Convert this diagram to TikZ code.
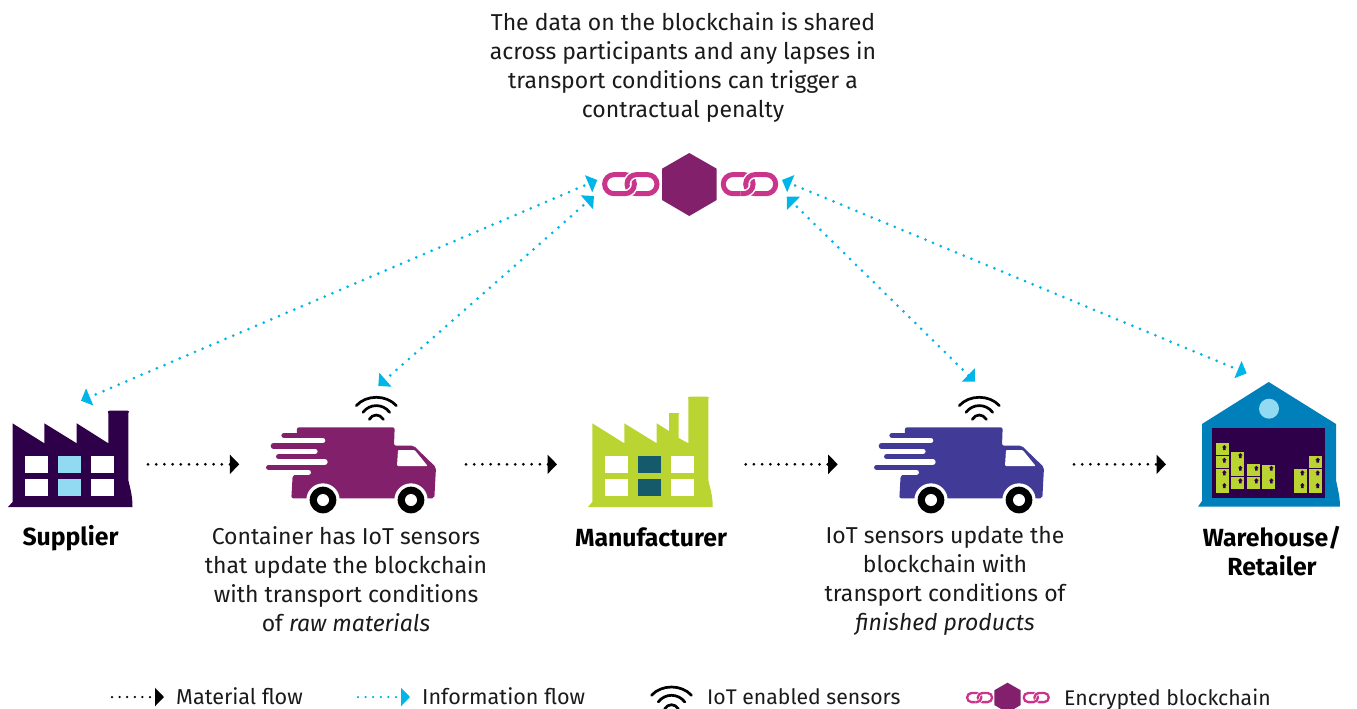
\documentclass[tikz,border=0pt]{standalone}
\usepackage{fontspec}
\setmainfont{Fira Sans}
\usetikzlibrary{arrows.meta}
\definecolor{plum}{HTML}{82206C}
\definecolor{indigoV}{HTML}{413A96}
\definecolor{darkV}{HTML}{2E0049}
\definecolor{lightB}{HTML}{92D9F2}
\definecolor{limeV}{HTML}{BAD531}
\definecolor{tealV}{HTML}{155A6B}
\definecolor{pinkV}{HTML}{C8358A}
\definecolor{skyV}{HTML}{00B5E8}
\definecolor{blueV}{HTML}{0080BA}
\definecolor{inkV}{HTML}{1A1A1A}
\tikzset{
  iconbox/.style={inner sep=0pt,outer sep=0pt,minimum width=#1},
  matflow/.style={line width=3pt,black,line cap=round,dash pattern=on 0pt off 8.2pt,
    -{Triangle[length=9.5pt,width=19pt]}},
  infoflow/.style={line width=3pt,skyV,line cap=round,dash pattern=on 0pt off 8.3pt,dash phase=3pt,
    {Triangle[length=9.5pt,width=18pt]}-{Triangle[length=9.5pt,width=18pt]}},
  wifiarc/.style={line width=2.7pt,black,line cap=round},
  bodytext/.style={font=\fontsize{23}{29}\selectfont,text=inkV,align=center,inner sep=0pt},
  boldtext/.style={font=\fontsize{24.8}{29}\selectfont\bfseries,text=black,align=center,inner sep=0pt},
  legendtext/.style={font=\fontsize{21.6}{25}\selectfont,text=inkV,anchor=base west,inner sep=0pt},
  legendtextB/.style={font=\fontsize{21.2}{25}\selectfont,text=inkV,anchor=base west,inner sep=0pt},
}
% x shift, colour
\newcommand{\vanicon}[2]{%
\begin{scope}[shift={(262+#1,390)},scale=1/3]
  \fill[#2,rounded corners=2pt] (105,112) -- (398,112) -- (396,167) -- (455,167) -- (522,232) -- (517,325) -- (88,325) -- (92,255) -- (100,255) -- cycle;
  \foreach \yy/\xx in {136/60,168/28,200/44,232/14}
    {\draw[#2,line width=5.3pt,line cap=round] (\xx+6,\yy) -- (130,\yy);}
  \foreach \yy/\xx in {152/190,184/167,216/197,247/147}
    {\draw[white,line width=5.3pt,line cap=round] (5,\yy) -- (\xx-8,\yy);}
  \fill[white,rounded corners=1pt] (405,228) -- (408,180) -- (458,180) -- (497,228) -- cycle;
  \foreach \cx in {183,447} {
    \fill[white] (\cx,330) circle (50);
    \fill[black] (\cx,330) circle (40);
    \fill[white] (\cx,330) circle (18);
  }
\end{scope}}
% centre x, peak y
\newcommand{\wifiicon}[2]{%
\begin{scope}[shift={(#1,#2)}]
  \draw[wifiarc] (-20,8.3) .. controls (-10,-2.77) and (10,-2.77) .. (20,8.3);
  \draw[wifiarc] (-13.3,15) .. controls (-6.6,6.07) and (6.6,6.07) .. (13.3,15);
  \draw[wifiarc] (-7,22) .. controls (-3.5,16.3) and (3.5,16.3) .. (7,22);
\end{scope}}
% factory windows: x1,x2,x3 with middle colour
\newcommand{\factorywin}[4]{%
  \foreach \yy in {456,479} {
    \fill[white] (#1,\yy) rectangle ++(23,17);
    \fill[#4] (#2,\yy) rectangle ++(23,17);
    \fill[white] (#3,\yy) rectangle ++(23,17);
  }}
% x offset, line width, radius
\newcommand{\chainicon}[3]{%
\begin{scope}[xshift=#1pt]
  \tikzset{lk/.style={rounded corners=#3pt,line width=#2pt}}
  \draw[pinkV,lk] (604.6,174.6) rectangle (634.4,193.7);
  \draw[white,lk,line width=#2pt*1.6] (627,174.6) rectangle (657,193.7);
  \draw[pinkV,lk] (627,174.6) rectangle (657,193.7);
  \begin{scope}
    \clip (622,184.2) rectangle (640,200);
    \draw[white,lk,line width=#2pt*1.6] (604.6,174.6) rectangle (634.4,193.7);
    \draw[pinkV,lk] (604.6,174.6) rectangle (634.4,193.7);
  \end{scope}
\end{scope}}
\newcommand{\hexicon}{\fill[plum] (689.3,153) -- (716.7,168.7) -- (716.7,200) -- (689.3,216) -- (662,200) -- (662,168.7) -- cycle;}
\newcommand{\boxarrow}[2]{\fill[darkV] (#1,#2-8) -- (#1+7,#2-1) -- (#1+4,#2-1) -- (#1+4,#2+7) -- (#1-4,#2+7) -- (#1-4,#2-1) -- (#1-7,#2-1) -- cycle;}
\begin{document}
\begin{tikzpicture}[x=1pt,y=-1pt]
\useasboundingbox (0,0) rectangle (1357,709);
% ---- icon anchors
\node[iconbox=124.5pt] (supplier) at (70.25,464.3) {};
\node[iconbox=171pt] (vanA) at (351.5,464.3) {};
\node[iconbox=124.7pt] (maker) at (650.35,464.3) {};
\node[iconbox=171pt] (vanB) at (959.5,464.3) {};
\node[iconbox=142pt] (store) at (1269,464.3) {};
\node[iconbox=55pt] (hub) at (689.3,184.5) {};
% ---- supplier
\fill[darkV] (8,507) -- (12.5,502) -- (12.5,423.3) -- (44.3,443.3) -- (44.3,423.3) -- (76.7,443.3) -- (76.7,423.3) -- (108.3,443.3) -- (108.3,413.3)
  .. controls (107,412) and (108,410.5) .. (110,410.5) -- (127,410.5) .. controls (129,410.5) and (130,412) .. (128.3,413.3)
  -- (128.3,480) .. controls (130,488) and (132.5,495) .. (132.5,507) -- cycle;
\factorywin{25}{58}{91}{lightB}
% ---- manufacturer
\fill[limeV] (588,507) -- (592.3,502) -- (592.3,423.3) -- (624.3,443.3) -- (624.3,423.3) -- (656.7,443.3) -- (656.7,423.3) -- (669,431) -- (669,414.5)
  .. controls (668,413.5) and (669,413) .. (670,413) -- (678,413) .. controls (679,413) and (680,413.5) .. (678.7,414.5) -- (678.7,438) -- (688.3,443.3) -- (688.3,398.5)
  .. controls (687,397.5) and (688,396.7) .. (690,396.7) -- (707,396.7) .. controls (709,396.7) and (710,397.5) .. (708.3,398.5)
  -- (708.3,480) .. controls (710,488) and (712.7,495) .. (712.7,507) -- cycle;
\factorywin{605}{638}{671}{tealV}
% ---- vans
\vanicon{0}{plum}
\vanicon{608}{indigoV}
\wifiicon{376.3}{397.3}
\wifiicon{979.3}{397.3}
% ---- warehouse
\fill[blueV] (1268.7,382) -- (1336,424) -- (1336,480) .. controls (1338,490) and (1340,497) .. (1340,506.7) -- (1198,506.7) -- (1202,501) -- (1202,424) -- cycle;
\fill[lightB] (1269,408.7) circle (10);
\fill[darkV] (1212,428) rectangle (1325,498);
\begin{scope}[shift={(1205,425)},scale=1/3]
  \foreach \xa/\ya/\yb in {33/54/90,33/93/129,33/132/204,78/81/153,78/156/192,126/117/153,126/156/192,171/120/192,267/132/204,312/93/129,312/132/204}
    {\fill[limeV] (\xa,\ya) rectangle (\xa+39,\yb);}
  \foreach \xa/\ya in {58/68,58/106,58/144,58/182,106/92,106/130,106/168,154/130,154/168,199/130,199/168,292/144,292/182,338/106,338/144,338/182}
    {\boxarrow{\xa}{\ya}}
\end{scope}
% ---- blockchain
\hexicon
\chainicon{0}{5}{9.5}
\chainicon{118.7}{5}{9.5}
% ---- material connectors
\draw[matflow,shorten <=15.5pt,shorten >=26.7pt] (supplier) -- (vanA);
\draw[matflow,shorten <=29pt,shorten >=31pt] (vanA) -- (maker);
\draw[matflow,shorten <=33pt,shorten >=36.3pt] (maker) -- (vanB);
\draw[matflow,shorten <=29pt,shorten >=32pt] (vanB) -- (store);
% ---- information connectors
\coordinate (hubL1) at (597.3,180);
\coordinate (hubL2) at (594,196);
\coordinate (hubR1) at (782,180);
\coordinate (hubR2) at (786.7,196.7);
\coordinate (supTop) at (81,400.7);
\coordinate (vanATop) at (378.3,386);
\coordinate (vanBTop) at (975,381.7);
\coordinate (storeTop) at (1246.7,373.3);
\draw[infoflow] (hubL1) -- (supTop);
\draw[infoflow] (hubL2) -- (vanATop);
\draw[infoflow] (hubR2) -- (vanBTop);
\draw[infoflow] (hubR1) -- (storeTop);
% ---- texts
\node[bodytext] (note) at (683,67.5) {The data on the blockchain is shared\\across participants and any lapses in\\transport conditions can trigger a\\contractual penalty};
\node[boldtext] (supplierLab) at (70.5,538) {Supplier};
\node[bodytext] (vanALab) at (346,579.5) {Container has IoT sensors\\that update the blockchain\\with transport conditions\\of \textit{raw materials}};
\node[boldtext] (makerLab) at (651,537) {Manufacturer};
\node[bodytext] (vanBLab) at (945,581) {IoT sensors update the\\blockchain with\\transport conditions of\\\textit{finished products}};
\node[boldtext] (storeLab) at (1272,551) {Warehouse/\\Retailer};
% ---- legend
\coordinate (lgA) at (112,697);
\coordinate (lgAe) at (164,697);
\coordinate (lgB) at (358,697);
\coordinate (lgBe) at (410,697);
\draw[line width=2.5pt,black,line cap=round,dash pattern=on 0pt off 7.6pt,-{Triangle[length=9pt,width=18pt]}] (lgA) -- (lgAe);
\draw[line width=2.5pt,skyV,line cap=round,dash pattern=on 0pt off 7.6pt,-{Triangle[length=9pt,width=18pt]}] (lgB) -- (lgBe);
\node[legendtext] (lgAt) at (176,704) {Material flow};
\node[legendtext] (lgBt) at (422,704) {Information flow};
\wifiicon{671.5}{687}
\node[legendtextB] (lgCt) at (707,704.5) {IoT enabled sensors};
\begin{scope}[shift={(678.7,609.7)},scale=.477]
  \hexicon
  \chainicon{0}{2.3}{4.5}
  \chainicon{118.7}{2.3}{4.5}
\end{scope}
\node[legendtextB] (lgDt) at (1064,705) {Encrypted blockchain};
\end{tikzpicture}
\end{document}
